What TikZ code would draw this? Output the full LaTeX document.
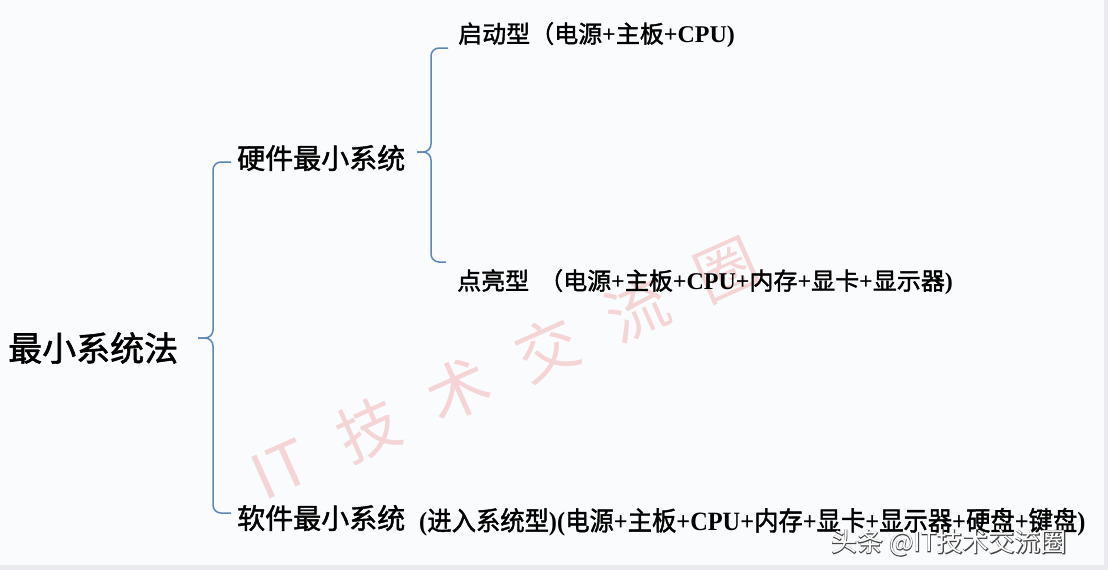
\documentclass[tikz,border=0pt]{standalone}
\usepackage{fontspec}
\newfontfamily\cjk{Noto Sans CJK SC}[FakeBold=1.6]
\newfontfamily\cjkr{Noto Sans CJK SC}
\newfontfamily\cjkhalo{Noto Sans CJK SC}[FakeBold=4]
\newfontfamily\lat{Liberation Serif}
\newcommand\La[1]{{\lat\bfseries #1}}
\definecolor{bgc}{HTML}{F9FBFD}
\definecolor{edgec}{HTML}{E9EBEE}
\definecolor{bracec}{HTML}{5C88B6}
\definecolor{wmpink}{HTML}{EE9A9A}
\definecolor{wmgray}{HTML}{3A3A3A}
\tikzset{
  brace/.style={draw=bracec, line width=1.5pt, rounded corners=8pt},
  txt/.style={anchor=west, inner sep=0pt, text=black},
  lvl0/.style={txt, font=\cjk\fontsize{34}{40}\selectfont},
  lvl1/.style={txt, font=\cjk\fontsize{28}{34}\selectfont},
  lvl2/.style={txt, font=\cjk\fontsize{24}{30}\selectfont},
  wmbig/.style={inner sep=0pt, text=wmpink, text opacity=0.4, font=\cjkr\fontsize{62}{70}\selectfont},
  wmtext/.style={anchor=west, inner sep=0pt}
}
\begin{document}
\begin{tikzpicture}[x=1pt,y=-1pt]
\fill[bgc] (0,0) rectangle (1108,570);
\fill[edgec] (0,565) rectangle (1108,570);
\fill[edgec] (1104,0) rectangle (1108,570);
\useasboundingbox (0,0) rectangle (1108,570);

% faint diagonal watermark
\node[wmbig, rotate=24] (wmdiag) at (505,368)
  {IT\hspace{38pt}技\hspace{36pt}术\hspace{36pt}交\hspace{36pt}流\hspace{36pt}圈};

% nodes
\node[lvl0] (root) at (8,348) {最小系统法};
\node[lvl1] (hw) at (237,158) {硬件最小系统};
\node[lvl2] (boot) at (458,35) {启动型（电源\La{+}主板\La{+CPU)}};
\node[lvl2] (lit) at (457,282) {点亮型\hspace{10pt}（电源\La{+}主板\La{+CPU+}内存\La{+}显卡\La{+}显示器\La{)}};
\node[lvl1] (sw) at (237,518) {软件最小系统};
\node[lvl2] (swd) at (419,522) {\scalebox{1.014}[1.1]{\La{(}进入系统型\La{)(}电源\La{+}主板\La{+CPU+}内存\La{+}显卡\La{+}显示器\La{+}硬盘\La{+}键盘\La{)}}};

% brace anchor points
\coordinate (bigtip) at (198,338);
\coordinate (hwin) at (231,162);
\coordinate (swin) at (231,513);
\coordinate (smalltip) at (417,152);
\coordinate (bootin) at (448,48);
\coordinate (litin) at (446,262);

% braces
\draw[brace] (bigtip) -- (213,338) -- (213,162) -- (hwin);
\draw[brace] (bigtip) -- (213,338) -- (213,513) -- (swin);
\draw[brace] (smalltip) -- (431,152) -- (431,48) -- (bootin);
\draw[brace] (smalltip) -- (431,152) -- (431,262) -- (litin);

% bottom-right watermark: dark outline under white text
\node[wmtext, text=wmgray, text opacity=0.85, font=\cjkhalo\fontsize{26}{32}\selectfont] (wmhalo) at (831,543) {头条 @IT技术交流圈};
\node[wmtext, text=white, font=\cjkr\fontsize{26}{32}\selectfont] (wmtag) at (831,543) {头条 @IT技术交流圈};
\end{tikzpicture}
\end{document}
